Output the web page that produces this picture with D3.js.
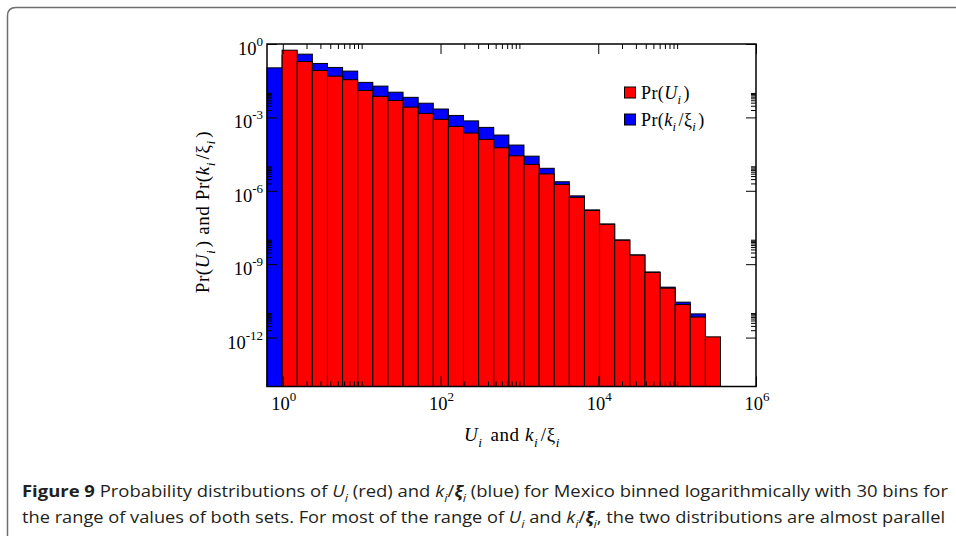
<!DOCTYPE html>
<html>
<head>
<meta charset="utf-8">
<script src="https://cdn.jsdelivr.net/npm/d3@7"></script>
<style>
  html, body { margin: 0; padding: 0; background: #ffffff; }
  svg { display: block; }
</style>
</head>
<body>
<svg id="chart" width="956" height="536"></svg>
<script>
// ---------------- data ----------------
// logarithmic binning: 30 bins spanning both sets (log10 limits)
const binLogMin = -0.2;
const binLogMax = 5.55;
const binCount = 30;

// Pr(U_i)  (red), one value per bin, null = empty bin
const prU = [null, 0.558, 0.192, 0.0828, 0.0485, 0.0347, 0.0126, 0.00724, 0.0049, 0.00263,
  0.00145, 8.3e-4, 4.27e-4, 2.29e-4, 1.26e-4, 5.75e-5, 2.69e-5, 1.2e-5, 4.9e-6, 1.82e-6,
  5.4e-7, 1.58e-7, 4.27e-8, 9.5e-9, 2.34e-9, 4.6e-10, 1.05e-10, 2.24e-11, 6.9e-12, 1.07e-12];

// Pr(k_i / xi_i)  (blue)
const prK = [0.106, 0.35, 0.384, 0.16, 0.11, 0.078, 0.027, 0.019, 0.0107, 0.0066,
  0.0038, 0.0022, 0.0012, 7.2e-4, 3.9e-4, 1.9e-4, 7.4e-5, 2.6e-5, 8.3e-6, 2.34e-6,
  6.2e-7, 1.65e-7, 4.4e-8, 9.8e-9, 2.4e-9, 4.8e-10, 1.15e-10, 2.8e-11, 9.3e-12, null];

const xMajorTicks = [1, 1e2, 1e4, 1e6];
const xMinorDecades = [1, 1e2, 1e4];
const yMajorTicks = [1e-12, 1e-9, 1e-6, 1e-3, 1];
const yMinorDecades = [1e-12, 1e-9, 1e-6, 1e-3];
const minorMultipliers = [2, 3, 4, 5, 6, 7, 8, 9, 10];
const xTickExponents = ["0", "2", "4", "6"];
const yTickExponents = ["-12", "-9", "-6", "-3", "0"];

// ---------------- layout ----------------
const L = 267, R = 756, T = 44, B = 386.5;
const svg = d3.select("#chart");

const x = d3.scaleLog().domain([Math.pow(10, -0.2), 1e6]).range([L, R]);
const y = d3.scaleLog().domain([1e-14, 1]).range([B, T]);

const binW = (binLogMax - binLogMin) / binCount;
const edges = d3.range(binCount + 1).map(i => Math.pow(10, binLogMin + i * binW));

function bars(values, color) {
  const data = values.map((v, i) => ({ v, x0: edges[i], x1: edges[i + 1] })).filter(d => d.v != null);
  svg.append("g").selectAll("rect").data(data).join("rect")
    .attr("x", d => x(d.x0))
    .attr("width", d => x(d.x1) - x(d.x0))
    .attr("y", d => y(d.v))
    .attr("height", d => B - y(d.v))
    .attr("fill", color)
    .attr("stroke", "#000")
    .attr("stroke-width", 1);
}
bars(prK, "#0000ff");
bars(prU, "#ff0000");

// ---------------- ticks (inward, all four sides) ----------------
const xMinor = xMinorDecades.flatMap(d => minorMultipliers.map(m => d * m));
const yMinor = yMinorDecades.flatMap(d => minorMultipliers.map(m => d * m));

function axisG(axis, tx, ty) {
  svg.append("g").attr("transform", `translate(${tx},${ty})`).call(axis)
    .call(g => g.select(".domain").remove())
    .call(g => g.selectAll("text").remove())
    .call(g => g.selectAll("line").attr("stroke", "#000").attr("stroke-width", 1));
}
axisG(d3.axisBottom(x).tickValues(xMajorTicks).tickSize(-10), 0, B);
axisG(d3.axisBottom(x).tickValues(xMinor).tickSize(-5), 0, B);
axisG(d3.axisTop(x).tickValues(xMajorTicks).tickSize(-10), 0, T);
axisG(d3.axisTop(x).tickValues(xMinor).tickSize(-5), 0, T);
axisG(d3.axisLeft(y).tickValues(yMajorTicks).tickSize(-10), L, 0);
axisG(d3.axisLeft(y).tickValues(yMinor).tickSize(-5), L, 0);
axisG(d3.axisRight(y).tickValues(yMajorTicks).tickSize(-10), R, 0);
axisG(d3.axisRight(y).tickValues(yMinor).tickSize(-5), R, 0);

// frame
svg.append("rect").attr("x", L).attr("y", T).attr("width", R - L).attr("height", B - T)
  .attr("fill", "none").attr("stroke", "#000").attr("stroke-width", 1.5);

// ---------------- rich text helper ----------------
// parts: [text, kind] kind: "" normal, "i" italic, "sub" italic subscript, "b" bold, "bi" bold italic
function rich(textSel, parts, base, subGap) {
  let shift = 0;
  let pendingDx = 0;
  parts.forEach(([t, k]) => {
    const ts = textSel.append("tspan").text(t);
    let target = 0;
    if (k === "sub") { target = base * 0.32; ts.attr("font-size", base * 0.7).attr("font-style", "italic"); }
    if (k === "i" || k === "bi") ts.attr("font-style", "italic");
    if (k === "b" || k === "bi") ts.attr("font-weight", "bold");
    if (target !== shift) { ts.attr("dy", target - shift); shift = target; }
    if (pendingDx) { ts.attr("dx", pendingDx); pendingDx = 0; }
    if (k === "sub") pendingDx = subGap || 0;
  });
  return textSel;
}

const serif = "'Liberation Serif', 'Times New Roman', serif";

// x tick labels
svg.append("g").selectAll("text").data(xMajorTicks).join("text")
  .attr("x", d => x(d) + 1)
  .attr("y", 410)
  .attr("text-anchor", "middle")
  .attr("font-family", serif).attr("font-size", 18.5).attr("fill", "#000")
  .each(function (d, i) {
    const t = d3.select(this);
    t.append("tspan").text("10");
    t.append("tspan").attr("dy", -9).attr("font-size", 13).text(xTickExponents[i]);
  });

// y tick labels
svg.append("g").selectAll("text").data(yMajorTicks).join("text")
  .attr("x", 263)
  .attr("y", d => y(d) + 11)
  .attr("text-anchor", "end")
  .attr("font-family", serif).attr("font-size", 18.5).attr("fill", "#000")
  .each(function (d, i) {
    const t = d3.select(this);
    t.append("tspan").text("10");
    t.append("tspan").attr("dy", -9).attr("font-size", 13).text(yTickExponents[i]);
  });

// x title
rich(svg.append("text").attr("x", 512).attr("y", 441).attr("text-anchor", "middle")
  .attr("font-family", serif).attr("font-size", 19).attr("letter-spacing", 0.6),
  [["U", "i"], ["i", "sub"], [" and ", ""], ["k", "i"], ["i", "sub"], ["/ξ", ""], ["i", "sub"]], 19, 2.5);

// y title
rich(svg.append("text").attr("transform", "translate(209,212) rotate(-90)").attr("text-anchor", "middle")
  .attr("font-family", serif).attr("font-size", 19).attr("letter-spacing", 0.6),
  [["Pr(", ""], ["U", "i"], ["i", "sub"], [") and Pr(", ""], ["k", "i"], ["i", "sub"], ["/ξ", ""], ["i", "sub"], [")", ""]], 19, 2.5);

// legend
const legend = [
  { color: "#ff0000", parts: [["Pr(", ""], ["U", "i"], ["i", "sub"], [")", ""]] },
  { color: "#0000ff", parts: [["Pr(", ""], ["k", "i"], ["i", "sub"], ["/ξ", ""], ["i", "sub"], [")", ""]] }
];
legend.forEach((l, i) => {
  const yy = 87 + i * 27;
  svg.append("rect").attr("x", 624.5).attr("y", yy).attr("width", 11).attr("height", 11)
    .attr("fill", l.color).attr("stroke", "#000").attr("stroke-width", 1);
  rich(svg.append("text").attr("x", 641).attr("y", yy + 11.5).attr("font-family", serif).attr("font-size", 18)
    .attr("letter-spacing", 0.4), l.parts, 18, 2);
});

// figure border
svg.append("path")
  .attr("d", "M7.5,536 L7.5,16 Q7.5,7.5 16,7.5 L956,7.5")
  .attr("fill", "none").attr("stroke", "#6d6e71").attr("stroke-width", 1.5);

// caption
const sans = "'Open Sans', 'Noto Sans', sans-serif";
const cap1 = svg.append("text").attr("x", 22).attr("y", 497).attr("font-family", sans)
  .attr("font-size", 16).attr("fill", "#231f20")
  .attr("textLength", 926).attr("lengthAdjust", "spacingAndGlyphs");
rich(cap1, [["Figure 9", "b"], ["  Probability distributions of ", ""], ["U", "i"], ["i", "sub"],
  [" (red) and ", ""], ["k", "i"], ["i", "sub"], ["/", ""], ["ξ", "bi"], ["i", "sub"],
  [" (blue) for Mexico binned logarithmically with 30 bins for", ""]], 16, 0);

const cap2 = svg.append("text").attr("x", 22).attr("y", 523).attr("font-family", sans)
  .attr("font-size", 16).attr("fill", "#231f20")
  .attr("textLength", 923).attr("lengthAdjust", "spacingAndGlyphs");
rich(cap2, [["the range of values of both sets. For most of the range of ", ""], ["U", "i"], ["i", "sub"],
  [" and ", ""], ["k", "i"], ["i", "sub"], ["/", ""], ["ξ", "bi"], ["i", "sub"],
  [", the two distributions are almost parallel", ""]], 16, 0);
</script>
</body>
</html>
